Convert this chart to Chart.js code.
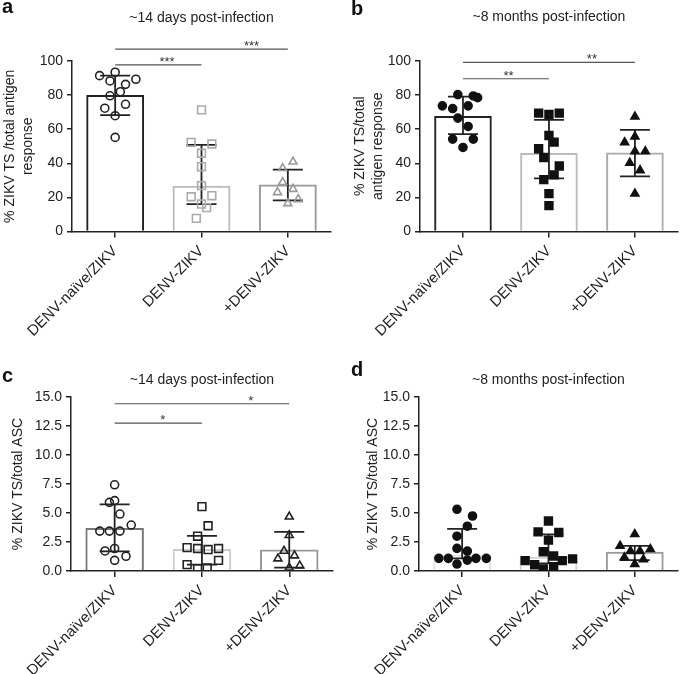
<!DOCTYPE html>
<html>
<head>
<meta charset="utf-8">
<script src="https://cdn.jsdelivr.net/npm/chart.js@4.4.0/dist/chart.umd.min.js"></script>
<style>
  body { margin: 0; background: #fff; }
  #fig { position: relative; width: 685px; height: 674px; overflow: hidden; }
  .panel { position: absolute; }
  .letter { position: absolute; font: bold 20px "Liberation Sans", Arial, sans-serif; line-height: 20px; color: #111; }
</style>
</head>
<body>
<div id="fig">
  <div class="panel" style="left:0;top:0"><canvas id="chartA" width="340" height="340"></canvas></div>
  <div class="panel" style="left:340px;top:0"><canvas id="chartB" width="345" height="340"></canvas></div>
  <div class="panel" style="left:0;top:340px"><canvas id="chartC" width="340" height="334"></canvas></div>
  <div class="panel" style="left:340px;top:340px"><canvas id="chartD" width="345" height="334"></canvas></div>
  <div class="letter" style="left:2px;top:-4px">a</div>
  <div class="letter" style="left:351px;top:-2px">b</div>
  <div class="letter" style="left:2px;top:365px">c</div>
  <div class="letter" style="left:351px;top:359px">d</div>
</div>
<script>
const categories = ["DENV-naïve/ZIKV", "DENV-ZIKV", "+DENV-ZIKV"];
const titles = ["~14 days post-infection", "~8 months post-infection"];

// a: % ZIKV TS of total antigen response, ~14 days
const aMean = [80.0, 26.9, 27.5];
const aSdHigh = [91.4, 50.8, 36.3];
const aSdLow = [68.3, 16.1, 18.3];
const aPoints = [
  [91.4, 93.4, 88.3, 86.3, 89.3, 82.0, 79.6, 74.6, 72.3, 67.9, 55.2],
  [71.3, 52.3, 51.3, 45.9, 38.0, 26.9, 20.4, 21.0, 16.1, 14.0, 7.7],
  [37.1, 40.9, 28.9, 23.0, 24.9, 16.5, 18.9]
];
const aJitter = [
  [-0.18, 0, -0.06, 0.12, 0.24, 0.06, -0.06, 0.12, -0.12, 0, 0],
  [0, -0.12, 0.12, 0, 0, 0, -0.12, 0.12, 0, 0.06, -0.06],
  [-0.06, 0.06, -0.06, -0.12, 0.06, 0, 0.12]
];
const aSigFrom = [0, 0];
const aSigTo = [1, 2];
const aSigY = [97.7, 107];
const aSigText = ["***", "***"];
const aSigAt = [0.6, 0.79];

// b: same, ~8 months
const bMean = [67.8, 46.0, 46.4];
const bSdHigh = [79.1, 65.5, 59.6];
const bSdLow = [57.1, 31.2, 32.3];
const bPoints = [
  [80.3, 79.5, 78.5, 73.7, 72.1, 73.7, 66.5, 61.6, 54.2, 54.2, 49.3],
  [69.4, 68.6, 69.4, 56.3, 52.4, 48.5, 43.4, 38.4, 33.2, 30.4, 22.2, 15.2],
  [67.3, 52.3, 55.7, 47.0, 47.0, 40.2, 35.9, 22.2]
];
const bJitter = [
  [-0.06, 0.12, 0.17, -0.24, -0.12, 0.06, -0.06, 0.06, -0.12, 0.12, 0],
  [-0.12, 0, 0.12, 0, 0.06, -0.12, -0.06, 0.12, 0.06, -0.06, 0, 0],
  [0, -0.12, 0, 0, 0.12, -0.06, 0.06, 0]
];
const bSigFrom = [0, 0];
const bSigTo = [1, 2];
const bSigY = [89.6, 99.2];
const bSigText = ["**", "**"];
const bSigAt = [0.53, 0.75];

// c: % ZIKV TS of total ASC, ~14 days
const cMean = [3.7, 1.9, 1.85];
const cSdHigh = [5.75, 3.03, 3.38];
const cSdLow = [1.7, 0.55, 0.29];
const cPoints = [
  [7.43, 5.92, 6.07, 4.91, 3.96, 3.44, 3.44, 3.44, 1.73, 1.94, 1.27, 0.92],
  [5.55, 3.9, 3.0, 2.02, 1.94, 1.85, 1.94, 0.92, 0.55, 0.2, 0.26],
  [4.68, 3.09, 1.73, 1.33, 1.07, 0.46, 0.29]
];
const cJitter = [
  [0, -0.06, 0, 0.06, 0.19, -0.17, -0.06, 0.06, -0.11, 0, 0.13, 0],
  [0, 0.07, -0.05, -0.17, -0.05, 0.07, 0.19, 0.19, -0.17, -0.05, 0.06],
  [0, 0, -0.06, 0.06, -0.13, 0.12, 0]
];
const cSigFrom = [0, 0];
const cSigTo = [1, 2];
const cSigY = [12.75, 14.42];
const cSigText = ["*", "*"];
const cSigAt = [0.55, 0.78];

// d: same, ~8 months
const dMean = [1.4, 1.23, 1.66];
const dSdHigh = [3.63, 3.15, 2.17];
const dSdLow = [1.09, 0.66, 0.94];
const dPoints = [
  [5.32, 4.74, 3.86, 3.0, 1.95, 1.72, 1.09, 1.09, 1.09, 1.09, 0.94, 0.6],
  [4.31, 3.37, 3.32, 2.66, 1.66, 1.29, 0.89, 0.89, 1.05, 0.54, 0.37, 0.17],
  [3.17, 2.17, 1.89, 1.72, 1.72, 1.17, 1.0, 0.6]
];
const dJitter = [
  [-0.06, 0.12, 0.06, -0.06, -0.06, 0.06, -0.27, -0.16, 0.16, 0.28, 0.06, -0.06],
  [0, -0.12, 0.12, 0, -0.06, 0.06, -0.27, 0.16, 0.28, -0.16, 0.06, -0.06],
  [0, -0.17, 0.18, -0.05, 0.06, -0.12, 0.1, 0]
];

Chart.defaults.font.family = '"Liberation Sans", Arial, Helvetica, sans-serif';
Chart.defaults.color = "#222";

const pointStyles = ["circle", "rect", "triangle"];
const pointSizes = [4, 5.5, 4.6];

function errorBars(high, low) {
  return {
    id: "errbars",
    afterDatasetDraw(chart, args) {
      if (args.index !== 0) return;
      const ctx = chart.ctx;
      const x = chart.scales.x, y = chart.scales.y;
      ctx.save();
      ctx.strokeStyle = "#222";
      ctx.lineWidth = 1.8;
      high.forEach((h, i) => {
        const px = x.getPixelForValue(i);
        const top = y.getPixelForValue(h);
        const bot = y.getPixelForValue(low[i]);
        ctx.beginPath();
        ctx.moveTo(px, top); ctx.lineTo(px, bot);
        ctx.moveTo(px - 15, top); ctx.lineTo(px + 15, top);
        ctx.moveTo(px - 15, bot); ctx.lineTo(px + 15, bot);
        ctx.stroke();
      });
      ctx.restore();
    }
  };
}

function brackets(from, to, yv, text, at) {
  return {
    id: "brackets",
    afterDraw(chart) {
      const ctx = chart.ctx;
      const xs = chart.scales.xs, y = chart.scales.y;
      ctx.save();
      ctx.strokeStyle = "#555";
      ctx.lineWidth = 1.2;
      ctx.fillStyle = "#333";
      ctx.font = '13px "Liberation Sans", Arial, sans-serif';
      ctx.textAlign = "center";
      ctx.textBaseline = "alphabetic";
      from.forEach((f, i) => {
        const py = y.getPixelForValue(yv[i]);
        ctx.beginPath();
        ctx.moveTo(xs.getPixelForValue(f), py);
        ctx.lineTo(xs.getPixelForValue(to[i]), py);
        ctx.stroke();
        ctx.fillText(text[i], xs.getPixelForValue(f + at[i] * (to[i] - f)), py + 1);
      });
      ctx.restore();
    }
  };
}

function makePanel(id, p) {
  const datasets = [{
    type: "bar",
    data: p.mean,
    xAxisID: "x",
    yAxisID: "y",
    grouped: false,
    backgroundColor: "rgba(0,0,0,0)",
    borderColor: p.barColors,
    borderWidth: 2,
    barPercentage: 0.67,
    categoryPercentage: 1,
    order: 2
  }];
  p.points.forEach((vals, g) => {
    datasets.push({
      type: "scatter",
      xAxisID: "xs",
      yAxisID: "y",
      data: vals.map((v, k) => ({ x: g + p.jitter[g][k], y: v })),
      pointStyle: pointStyles[g],
      pointRadius: pointSizes[g],
      borderWidth: 1.6,
      borderColor: p.markColors[g],
      backgroundColor: p.filled ? p.markColors[g] : "rgba(0,0,0,0)",
      order: 1
    });
  });

  const plugins = [errorBars(p.high, p.low)];
  if (p.sig) plugins.push(brackets(...p.sig));

  return new Chart(document.getElementById(id), {
    data: { labels: categories, datasets: datasets },
    plugins: plugins,
    options: {
      responsive: false,
      animation: false,
      events: [],
      layout: { padding: { left: 0, top: 0, bottom: 0, right: p.width - p.right } },
      plugins: {
        legend: { display: false },
        tooltip: { enabled: false },
        title: {
          display: true,
          text: p.title,
          fullSize: false,
          color: "#222",
          font: { size: 14, weight: "normal", lineHeight: 1.2 },
          padding: { top: p.titleY - 8.4, bottom: p.top - p.titleY - 8.4 }
        }
      },
      scales: {
        x: {
          type: "category",
          labels: categories,
          offset: true,
          ticks: { color: "#222", font: { size: 15 }, maxRotation: 45, minRotation: 45, autoSkip: false, padding: 5 },
          grid: { drawOnChartArea: false, offset: false, tickLength: 6, color: "#222", lineWidth: 1.5 },
          border: { color: "#222", width: 1.5 },
          afterFit: s => { s.height = p.height - p.bottom; }
        },
        xs: { type: "linear", display: false, min: -0.5, max: 2.5 },
        y: {
          min: 0,
          max: p.yMax,
          ticks: { stepSize: p.yStep, color: "#222", font: { size: 14 }, padding: 4,
                   callback: v => v.toFixed(p.decimals) },
          grid: { drawOnChartArea: false, tickLength: 5, color: "#222", lineWidth: 1.5 },
          border: { color: "#222", width: 1.5 },
          title: { display: true, text: p.yTitle, color: "#222",
                   font: { size: 14, lineHeight: 18 / 14 }, padding: { top: p.yTitlePad, bottom: 0 } },
          afterFit: s => { s.width = p.left; }
        }
      }
    }
  });
}

makePanel("chartA", {
  width: 340, height: 340, left: 72, right: 331, top: 61, bottom: 231.5, titleY: 18,
  title: titles[0], yTitle: ["% ZIKV TS /total antigen", "response"], yTitlePad: 1,
  yMax: 100, yStep: 20, decimals: 0,
  mean: aMean, high: aSdHigh, low: aSdLow, points: aPoints, jitter: aJitter,
  barColors: ["#222", "#bbb", "#999"], markColors: ["#222", "#aaa", "#999"], filled: false,
  sig: [aSigFrom, aSigTo, aSigY, aSigText, aSigAt]
});

makePanel("chartB", {
  width: 345, height: 340, left: 80, right: 340, top: 61, bottom: 231.5, titleY: 17.5,
  title: titles[1], yTitle: ["% ZIKV TS/total", "antigen response"], yTitlePad: 11,
  yMax: 100, yStep: 20, decimals: 0,
  mean: bMean, high: bSdHigh, low: bSdLow, points: bPoints, jitter: bJitter,
  barColors: ["#222", "#bbb", "#aaa"], markColors: ["#111", "#111", "#111"], filled: true,
  sig: [bSigFrom, bSigTo, bSigY, bSigText, bSigAt]
});

makePanel("chartC", {
  width: 340, height: 334, left: 71, right: 335, top: 57, bottom: 231, titleY: 40,
  title: titles[0], yTitle: "% ZIKV TS/total ASC", yTitlePad: 9,
  yMax: 15, yStep: 2.5, decimals: 1,
  mean: cMean, high: cSdHigh, low: cSdLow, points: cPoints, jitter: cJitter,
  barColors: ["#777", "#ccc", "#999"], markColors: ["#222", "#222", "#222"], filled: false,
  sig: [cSigFrom, cSigTo, cSigY, cSigText, cSigAt]
});

makePanel("chartD", {
  width: 345, height: 334, left: 79, right: 344, top: 57, bottom: 231, titleY: 40,
  title: titles[1], yTitle: "% ZIKV TS/total ASC", yTitlePad: 24,
  yMax: 15, yStep: 2.5, decimals: 1,
  mean: dMean, high: dSdHigh, low: dSdLow, points: dPoints, jitter: dJitter,
  barColors: ["#e2e2e2", "#d2d2d2", "#999"], markColors: ["#111", "#111", "#111"], filled: true,
  sig: null
});
</script>
</body>
</html>
